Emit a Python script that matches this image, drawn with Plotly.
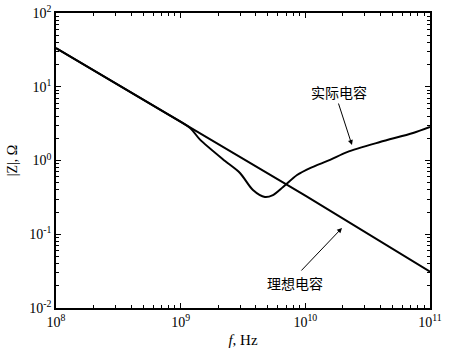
import plotly.graph_objects as go

# Ideal capacitor |Z| (Ohm) vs frequency (Hz)
ideal_f = [1e8, 1e9, 1e10, 1e11]
ideal_z = [33.5, 3.35, 0.335, 0.031]

# Real capacitor |Z| (Ohm) vs frequency (Hz)
real_f = [1e8, 8.0e8, 1.19e9, 1.43e9, 2.27e9, 2.99e9, 3.80e9, 4.74e9, 5.50e9,
          6.63e9, 8.58e9, 1.09e10, 1.58e10, 2.16e10, 3.97e10, 7.31e10, 1e11]
real_z = [33.5, 4.19, 2.76, 1.92, 0.985, 0.678, 0.398, 0.32, 0.34,
          0.437, 0.636, 0.79, 1.02, 1.30, 1.78, 2.36, 2.85]

# tick labels
x_tickvals = [1e8, 1e9, 1e10, 1e11]
x_ticktext = ["10<sup>8</sup>", "10<sup>9</sup>", "10<sup>10</sup>", "10<sup>11</sup>"]
y_tickvals = [1e-2, 1e-1, 1e0, 1e1, 1e2]
y_ticktext = ["10<sup>-2</sup>", "10<sup>-1</sup>", "10<sup>0</sup>", "10<sup>1</sup>", "10<sup>2</sup>"]

label_real = "实际电容"
label_ideal = "理想电容"

fig = go.Figure()
fig.add_trace(go.Scatter(x=ideal_f, y=ideal_z, mode="lines",
                         line=dict(color="black", width=2), showlegend=False))
fig.add_trace(go.Scatter(x=real_f, y=real_z, mode="lines", line_shape="spline",
                         line=dict(color="black", width=2, smoothing=0.8), showlegend=False))

axis_common = dict(type="log", showgrid=False, zeroline=False, showline=True,
                   linecolor="black", linewidth=1.5, mirror="allticks",
                   ticks="inside", ticklen=5, tickcolor="black", automargin=False,
                   tickfont=dict(family="Liberation Serif", size=14, color="black"),
                   minor=dict(ticks="inside", ticklen=3, tickcolor="black", showgrid=False,
                              dtick="D1"))

cjk = dict(family="Noto Sans CJK SC", size=14, color="black")

fig.update_layout(
    width=455, height=356,
    margin=dict(l=56, r=25, t=13, b=48, autoexpand=False),
    plot_bgcolor="white", paper_bgcolor="white",
    xaxis=dict(range=[8, 11], tickmode="array", tickvals=x_tickvals, ticktext=x_ticktext,
               title=dict(text="<i>f</i>, Hz", font=dict(family="Liberation Serif", size=15, color="black"),
                          standoff=6),
               **axis_common),
    yaxis=dict(range=[-2, 2], tickmode="array", tickvals=y_tickvals, ticktext=y_ticktext,
               title=dict(text="|Z|, Ω", font=dict(family="Liberation Serif", size=14, color="black"),
                          standoff=8),
               **axis_common),
    annotations=[
        # text labels
        dict(x=10.27, y=0.929, xref="x", yref="y", text=label_real, showarrow=False, font=cjk),
        dict(x=9.917, y=-1.661, xref="x", yref="y", text=label_ideal, showarrow=False, font=cjk),
        # arrows
        dict(x=10.374, y=0.21, xref="x", yref="y", text="", showarrow=True,
             ax=10.262, ay=0.793, axref="x", ayref="y",
             arrowhead=2, arrowsize=1, arrowwidth=1, arrowcolor="black"),
        dict(x=10.294, y=-0.915, xref="x", yref="y", text="", showarrow=True,
             ax=9.957, ay=-1.512, axref="x", ayref="y",
             arrowhead=2, arrowsize=1, arrowwidth=1, arrowcolor="black"),
    ],
)

# remove the default 8px page margin so the figure sits at the window's top-left
fig.write_html("out.html", config={"displayModeBar": False},
               post_script="document.body.style.margin='0';")
